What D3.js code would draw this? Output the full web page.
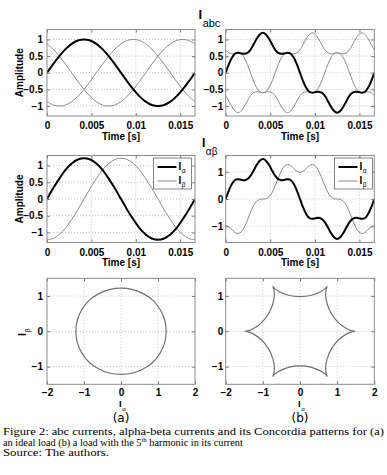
<!DOCTYPE html>
<html><head><meta charset="utf-8">
<script src="https://cdn.jsdelivr.net/npm/d3@7"></script>
<style>body{margin:0;background:#fff}svg{display:block}</style>
</head><body>
<svg id="c" width="387" height="475"></svg>
<script>
// ---------- DATA ----------
const period = 1 / 60;                       // one 60 Hz cycle, seconds
// ideal load: samples every 1/24 of a cycle
const iaIdeal = [0,.26,.5,.71,.87,.97,1,.97,.87,.71,.5,.26,0,-.26,-.5,-.71,-.87,-.97,-1,-.97,-.87,-.71,-.5,-.26,0];
const ibIdeal = [-.87,-.97,-1,-.97,-.87,-.71,-.5,-.26,0,.26,.5,.71,.87,.97,1,.97,.87,.71,.5,.26,0,-.26,-.5,-.71,-.87];
const icIdeal = [.87,.71,.5,.26,0,-.26,-.5,-.71,-.87,-.97,-1,-.97,-.87,-.71,-.5,-.26,0,.26,.5,.71,.87,.97,1,.97,.87];
const iAlphaIdeal = [0,.32,.61,.87,1.06,1.18,1.22,1.18,1.06,.87,.61,.32,0,-.32,-.61,-.87,-1.06,-1.18,-1.22,-1.18,-1.06,-.87,-.61,-.32,0];
const iBetaIdeal = [-1.22,-1.18,-1.06,-.87,-.61,-.32,0,.32,.61,.87,1.06,1.18,1.22,1.18,1.06,.87,.61,.32,0,-.32,-.61,-.87,-1.06,-1.18,-1.22];
// load with 5th harmonic: samples every 1/48 of a cycle
const iaHarm = [0,.25,.45,.57,.60,.58,.57,.60,.69,.85,1.02,1.15,1.20,1.15,1.02,.85,.69,.60,.57,.58,.60,.57,.45,.25,0,-.25,-.45,-.57,-.60,-.58,-.57,-.60,-.69,-.85,-1.02,-1.15,-1.20,-1.15,-1.02,-.85,-.69,-.60,-.57,-.58,-.60,-.57,-.45,-.25,0];
const ibHarm = [-.69,-.85,-1.02,-1.15,-1.20,-1.15,-1.02,-.85,-.69,-.60,-.57,-.58,-.60,-.57,-.45,-.25,0,.25,.45,.57,.60,.58,.57,.60,.69,.85,1.02,1.15,1.20,1.15,1.02,.85,.69,.60,.57,.58,.60,.57,.45,.25,0,-.25,-.45,-.57,-.60,-.58,-.57,-.60,-.69];
const icHarm = [.69,.60,.57,.58,.60,.57,.45,.25,0,-.25,-.45,-.57,-.60,-.58,-.57,-.60,-.69,-.85,-1.02,-1.15,-1.20,-1.15,-1.02,-.85,-.69,-.60,-.57,-.58,-.60,-.57,-.45,-.25,0,.25,.45,.57,.60,.58,.57,.60,.69,.85,1.02,1.15,1.20,1.15,1.02,.85,.69];
const iAlphaHarm = [0,.31,.55,.70,.73,.71,.69,.73,.85,1.04,1.25,1.41,1.47,1.41,1.25,1.04,.85,.73,.69,.71,.73,.70,.55,.31,0,-.31,-.55,-.70,-.73,-.71,-.69,-.73,-.85,-1.04,-1.25,-1.41,-1.47,-1.41,-1.25,-1.04,-.85,-.73,-.69,-.71,-.73,-.70,-.55,-.31,0];
const iBetaHarm = [-.98,-1.02,-1.12,-1.23,-1.27,-1.21,-1.04,-.78,-.49,-.24,-.08,-.01,0,.01,.08,.24,.49,.78,1.04,1.21,1.27,1.23,1.12,1.02,.98,1.02,1.12,1.23,1.27,1.21,1.04,.78,.49,.24,.08,.01,0,-.01,-.08,-.24,-.49,-.78,-1.04,-1.21,-1.27,-1.23,-1.12,-1.02,-.98];

const timeTicks = [0, 0.005, 0.01, 0.015];
const timeTickLabels = ['0', '0.005', '0.01', '0.015'];
const ampTicks = [-1, -0.5, 0, 0.5, 1];
const ampTickLabels = ['\u22121', '\u22120.5', '0', '0.5', '1'];
const unitTicks = [-1, 0, 1];
const unitTickLabels = ['\u22121', '0', '1'];
const concXTicks = [-2, -1, 0, 1, 2];
const concXTickLabels = ['\u22122', '\u22121', '0', '1', '2'];

// ---------- DRAWING ----------
const svg = d3.select('#c');
const SANS = "'Liberation Sans', Arial, Helvetica, sans-serif";
const GRAY = '#8a8a8a';
let clipId = 0;

function tsamples(n) { return d3.range(n).map(i => i * period / (n - 1)); }

function panel(o) {
  const x = d3.scaleLinear().domain(o.xDomain).range([o.x0, o.x1]);
  const y = d3.scaleLinear().domain(o.yDomain).range([o.y1, o.y0]);
  const g = svg.append('g');
  // grid
  g.append('g').selectAll('line').data(o.xTicks.filter(d => x(d) > o.x0 + 1 && x(d) < o.x1 - 1)).join('line')
    .attr('x1', d => x(d)).attr('x2', d => x(d)).attr('y1', o.y0).attr('y2', o.y1)
    .attr('stroke', '#b5b5b5').attr('stroke-width', 0.8).attr('stroke-dasharray', '1,2');
  g.append('g').selectAll('line').data(o.yTicks).join('line')
    .attr('y1', d => y(d)).attr('y2', d => y(d)).attr('x1', o.x0).attr('x2', o.x1)
    .attr('stroke', '#b5b5b5').attr('stroke-width', 0.8).attr('stroke-dasharray', '1,2');
  // series
  const id = 'clip' + (clipId++);
  svg.append('clipPath').attr('id', id).append('rect')
    .attr('x', o.x0).attr('y', o.y0).attr('width', o.x1 - o.x0).attr('height', o.y1 - o.y0);
  const sg = g.append('g').attr('clip-path', `url(#${id})`);
  o.series.forEach(s => {
    const line = d3.line().x(d => x(d[0])).y(d => y(d[1]))
      .curve(s.closed ? d3.curveCatmullRomClosed.alpha(0.5) : d3.curveCatmullRom.alpha(0.5));
    sg.append('path').datum(s.pts).attr('d', line).attr('fill', 'none')
      .attr('stroke', s.color).attr('stroke-width', s.width).attr('stroke-linejoin', 'round');
  });
  // axes
  const ax = d3.axisBottom(x).tickValues(o.xTicks).tickFormat((d, i) => o.xLabels[i])
    .tickSizeInner(-3).tickSizeOuter(0).tickPadding(o.xPad || 6);
  const ay = d3.axisLeft(y).tickValues(o.yTicks).tickFormat((d, i) => o.yLabels[i])
    .tickSizeInner(-3).tickSizeOuter(0).tickPadding(o.yPad || 4);
  const axT = d3.axisTop(x).tickValues(o.xTicks).tickFormat('').tickSizeInner(-3).tickSizeOuter(0);
  const ayR = d3.axisRight(y).tickValues(o.yTicks).tickFormat('').tickSizeInner(-3).tickSizeOuter(0);
  [[ax, `translate(0,${o.y1})`], [ay, `translate(${o.x0},0)`], [axT, `translate(0,${o.y0})`], [ayR, `translate(${o.x1},0)`]]
    .forEach(([a, t]) => {
      const ag = g.append('g').attr('transform', t).call(a);
      ag.select('.domain').remove();
      ag.selectAll('line').attr('stroke', '#777');
      ag.selectAll('text').attr('font-family', SANS).attr('font-size', 10).attr('font-weight', 'bold').attr('fill', '#000');
    });
  g.append('rect').attr('x', o.x0).attr('y', o.y0).attr('width', o.x1 - o.x0).attr('height', o.y1 - o.y0)
    .attr('fill', 'none').attr('stroke', '#8c8c8c').attr('stroke-width', 1);
  return { x, y, g };
}

function timeSeries(arrs) {
  return arrs.map(a => {
    const t = tsamples(a.vals.length);
    return { pts: a.vals.map((v, i) => [t[i], v]), color: a.color, width: a.width };
  });
}

const L = [47, 195], R = [225.7, 374.3];
const row1 = [29.5, 116], row2 = [155.5, 242.5], row3 = [278.3, 384.3];

// Row 1: abc currents
panel({ x0: L[0], x1: L[1], y0: row1[0], y1: row1[1], xDomain: [0, period], yDomain: [-1.3, 1.3],
  xTicks: timeTicks, xLabels: timeTickLabels, yTicks: ampTicks, yLabels: ampTickLabels, yPad: 4,
  series: timeSeries([{ vals: ibIdeal, color: GRAY, width: 1 }, { vals: icIdeal, color: GRAY, width: 1 }, { vals: iaIdeal, color: '#000', width: 2 }]) });
panel({ x0: R[0], x1: R[1], y0: row1[0], y1: row1[1], xDomain: [0, period], yDomain: [-1.3, 1.3],
  xTicks: timeTicks, xLabels: timeTickLabels, yTicks: ampTicks, yLabels: ampTickLabels, yPad: 2.5,
  series: timeSeries([{ vals: ibHarm, color: GRAY, width: 1 }, { vals: icHarm, color: GRAY, width: 1 }, { vals: iaHarm, color: '#000', width: 2 }]) });

// Row 2: alpha-beta currents
panel({ x0: L[0], x1: L[1], y0: row2[0], y1: row2[1], xDomain: [0, period], yDomain: [-1.3, 1.3],
  xTicks: timeTicks, xLabels: timeTickLabels, yTicks: ampTicks, yLabels: ampTickLabels, yPad: 4,
  series: timeSeries([{ vals: iBetaIdeal, color: GRAY, width: 1 }, { vals: iAlphaIdeal, color: '#000', width: 2 }]) });
panel({ x0: R[0], x1: R[1], y0: row2[0], y1: row2[1], xDomain: [0, period], yDomain: [-1.6, 1.6],
  xTicks: timeTicks, xLabels: timeTickLabels, yTicks: unitTicks, yLabels: unitTickLabels, yPad: 2.5,
  series: timeSeries([{ vals: iBetaHarm, color: GRAY, width: 1 }, { vals: iAlphaHarm, color: '#000', width: 2 }]) });

// Row 3: Concordia patterns
panel({ x0: L[0], x1: L[1], y0: row3[0], y1: row3[1], xDomain: [-2, 2], yDomain: [-1.5, 1.5],
  xTicks: concXTicks, xLabels: concXTickLabels, yTicks: unitTicks, yLabels: unitTickLabels, yPad: 4, xPad: 5,
  series: [{ pts: iAlphaIdeal.slice(0, -1).map((v, i) => [v, iBetaIdeal[i]]), closed: true, color: '#707070', width: 1.2 }] });
panel({ x0: R[0], x1: R[1], y0: row3[0], y1: row3[1], xDomain: [-2, 2], yDomain: [-1.5, 1.5],
  xTicks: concXTicks, xLabels: concXTickLabels, yTicks: unitTicks, yLabels: unitTickLabels, yPad: 2.5, xPad: 5,
  series: [{ pts: iAlphaHarm.slice(0, -1).map((v, i) => [v, iBetaHarm[i]]), closed: true, color: '#707070', width: 1.2 }] });

// ---------- LABELS ----------
function txt(x, y, s, opt = {}) {
  return svg.append('text').attr('x', x).attr('y', y).text(s)
    .attr('font-family', opt.family || SANS).attr('font-size', opt.size || 10)
    .attr('font-weight', opt.weight || 'bold').attr('text-anchor', opt.anchor || 'middle').attr('fill', '#000');
}
// x-axis titles
[[121, 139.5], [300, 139.5], [121, 265.5], [300, 265.5]].forEach(([x, y]) => txt(x, y, 'Time [s]'));
// y-axis titles
[[(row1[0] + row1[1]) / 2], [(row2[0] + row2[1]) / 2]].forEach(([cy]) =>
  txt(0, 0, 'Amplitude').attr('transform', `translate(22.5,${cy}) rotate(-90)`));

// subscripted I labels
function iLabel(x, y, sub, size, subSize, dy, rot) {
  const t = svg.append('text').attr('font-family', SANS).attr('fill', '#000').attr('text-anchor', 'start');
  if (rot) t.attr('transform', `translate(${x},${y}) rotate(-90)`); else t.attr('x', x).attr('y', y);
  t.append('tspan').text('I').attr('font-size', size).attr('font-weight', 'bold');
  t.append('tspan').text(sub).attr('font-size', subSize).attr('dy', dy).attr('dx', 0.5);
  return t;
}
iLabel(198.5, 18.5, 'abc', 13, 11, 8);
iLabel(202, 147, '\u03b1\u03b2', 12, 10, 8);
iLabel(119, 406.5, '\u03b1', 9.5, 6, 4);
iLabel(298, 406.5, '\u03b1', 9.5, 6, 4);
iLabel(26, 336, '\u03b2', 10.5, 7, 4, true);

// legends
function legend(x, y) {
  const w = 38, h = 31;
  svg.append('rect').attr('x', x).attr('y', y).attr('width', w).attr('height', h)
    .attr('fill', '#fff').attr('stroke', '#666').attr('stroke-width', 0.8);
  [['\u03b1', '#000', 2, 9], ['\u03b2', GRAY, 1, 23]].forEach(([sub, c, sw, dy]) => {
    svg.append('line').attr('x1', x + 4).attr('x2', x + 23).attr('y1', y + dy).attr('y2', y + dy)
      .attr('stroke', c).attr('stroke-width', sw);
    iLabel(x + 25, y + dy + 3, sub, 10, 6.5, 3);
  });
}
legend(153.5, 158);
legend(334.5, 158);

// panel captions
txt(121, 422, '(a)', { family: "'DejaVu Sans', sans-serif", size: 12, weight: 'normal' });
txt(300, 422, '(b)', { family: "'DejaVu Sans', sans-serif", size: 12, weight: 'normal' });

// figure caption, each line fitted to the width it has in the reference
const SERIF = "'Liberation Serif', 'Times New Roman', serif";
const capLines = [
  { y: 435.3, w: 381, parts: [{ s: 'Figure 2: abc currents, alpha-beta currents and its Concordia patterns for (a)' }] },
  { y: 445.6, w: 240, parts: [{ s: 'an ideal load (b) a load with the 5' }, { s: 'th', sup: true }, { s: ' harmonic in its current', back: true }] },
  { y: 455.9, w: 106, parts: [{ s: 'Source: The authors.' }] }
];
capLines.forEach(ln => {
  const g = svg.append('g');
  const t = g.append('text').attr('x', 0).attr('y', 0).attr('font-family', SERIF)
    .attr('font-size', 10.4).attr('fill', '#000');
  ln.parts.forEach(p => {
    const s = t.append('tspan').text(p.s);
    if (p.sup) s.attr('font-size', 6.8).attr('dy', -3.8);
    if (p.back) s.attr('dy', 3.8);
  });
  const natural = t.node().getComputedTextLength();
  g.attr('transform', `translate(3,${ln.y}) scale(${ln.w / natural},1)`);
});
</script>
</body></html>
